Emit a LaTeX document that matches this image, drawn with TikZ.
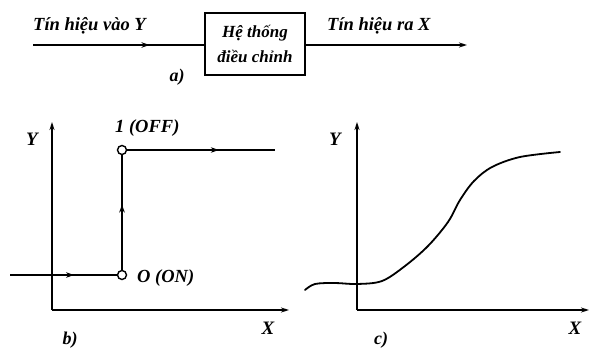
\documentclass[tikz,border=0pt]{standalone}
\usepackage{fontspec}
\setmainfont{Liberation Serif}
\usetikzlibrary{arrows.meta,decorations.markings}
\tikzset{
  ln/.style={line width=1.4pt},
  tip/.style={-{Stealth[length=8pt,width=5pt]}},
  midarrow/.style={postaction={decorate},decoration={markings,mark=at position #1 with {\arrow{Stealth[length=8pt,width=5.5pt]}}}},
  lbl/.style={font=\fontsize{18.5}{20}\selectfont\bfseries\itshape, inner sep=0pt},
  axl/.style={font=\fontsize{19}{21}\selectfont\bfseries\itshape, inner sep=0pt},
  sub/.style={font=\fontsize{18}{20}\selectfont\bfseries\itshape, inner sep=0pt},
  ring/.style={circle, draw, line width=1.4pt, fill=white, minimum size=9pt, inner sep=0pt}
}
\begin{document}
\begin{tikzpicture}[x=1pt,y=-1pt]
\useasboundingbox (0,0) rectangle (589,348);
% part a
\node[draw, line width=1.5pt, minimum width=100pt, minimum height=62pt, inner sep=0pt, align=center,
  font=\fontsize{17}{25}\selectfont\bfseries\itshape] (sys) at (255,44) {Hệ thống\\điều chỉnh};
\coordinate (ain) at (33,45);
\coordinate (aout) at (467,45);
\draw[ln, midarrow=0.68] (ain) -- (ain -| sys.west);
\draw[ln, tip] (aout -| sys.east) -- (aout);
\node[lbl, anchor=base west] (tin) at (33,30) {Tín hiệu vào Y};
\node[lbl, anchor=base west] (tout) at (327,30) {Tín hiệu ra X};
\node[sub] (la) at (177,77) {a)};
% part b
\coordinate (bo) at (52,310);
\coordinate (by) at (52,122);
\coordinate (bx) at (289,310);
\draw[ln, tip] (bo) -- (by);
\draw[ln, tip] (bo) -- (bx);
\node[axl] (bY) at (32,139) {Y};
\node[axl] (bX) at (268,328) {X};
\node[sub] (lb) at (70,340) {b)};
\node[ring] (off) at (122,150) {};
\node[ring] (on) at (122,275) {};
\coordinate (bend) at (275,150);
\coordinate (bstart) at (10,275);
\draw[ln, midarrow=0.62] (off) -- (bend);
\draw[ln, midarrow=0.57] (on) -- (off);
\draw[ln, midarrow=0.6] (bstart) -- (on);
\node[lbl, anchor=base west] (loff) at (115,132) {1 (OFF)};
\node[lbl, anchor=base west] (lon) at (137,282) {O (ON)};
% part c
\coordinate (co) at (357,310);
\coordinate (cy) at (357,122);
\coordinate (cx) at (589,310);
\draw[ln, tip] (co) -- (cy);
\draw[ln, tip] (co) -- (cx);
\node[axl] (cY) at (335,139) {Y};
\node[axl] (cX) at (575,328) {X};
\node[sub] (lc) at (381,340) {c)};
\draw[line width=1.8pt, line cap=round] plot[smooth, tension=0.55] coordinates {(305,290) (315,284) (335,283) (357,284) (382,281) (405,266) (428,246) (448,222) (460,200) (474,181) (492,167) (520,157) (560,152)};
\end{tikzpicture}
\end{document}
